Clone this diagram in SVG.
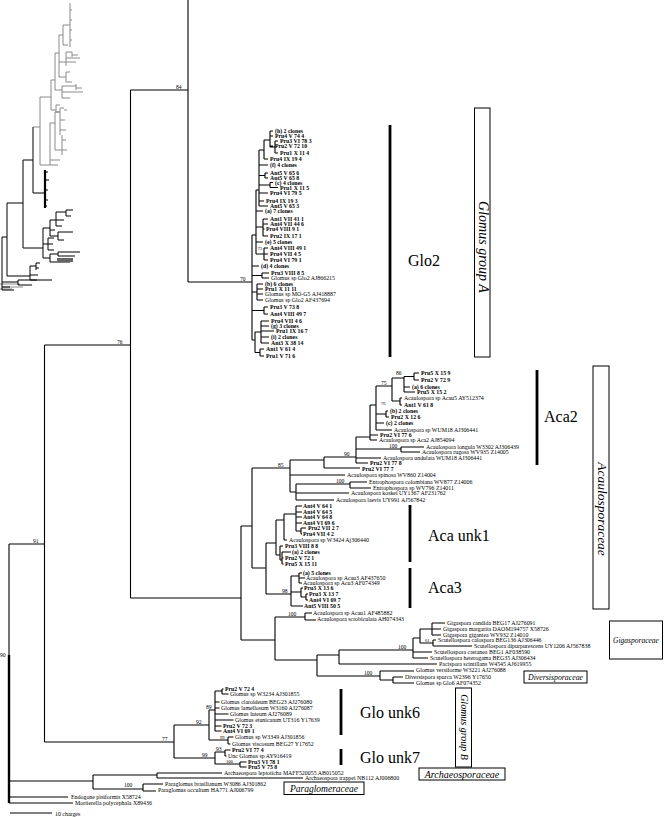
<svg xmlns="http://www.w3.org/2000/svg" width="664" height="817" viewBox="0 0 664 817">
<style>
.l{stroke:#000;stroke-width:1.1;fill:none}
.g{stroke:#8a8a8a;stroke-width:1;fill:none}
.k{stroke:#000;stroke-width:1;fill:none}
.bar{stroke:#000;stroke-width:2.8}
.box{fill:#fff;stroke:#000;stroke-width:1}
text{font-family:"Liberation Serif","Times New Roman",serif;fill:#000}
.s{font-size:5.9px}
.b{font-size:5.8px;font-weight:bold}
.n{font-size:5.6px}
.m{font-size:4.6px}
.c{font-size:16px}
.f{font-style:italic}
</style>
<rect width="664" height="817" fill="#fff"/>

<g id="overview">
<path class="g" d="M33,127 H40 M40,97 V165 M40,97 H51 M51,80 V110 M51,80 H55 M55,53 V90 M55,53 H59 M59,35 V77 M59,35 H63 M63,25 V45 M63,25 H70 M70,3 V47 M70,10 H72 M70,20 H72 M70,30 H72 M70,40 H72 M63,45 H68 M59,77 H66 M66,72 V82 M66,72 H70 M66,82 H72 M59,62 H66 M66,52 V66 M66,52 H72 M66,58 H80 M66,62 H76 M72,52 V57 M72,55 H78 M55,90 H62 M62,86 V98 M62,86 H76 M62,92 H83 M62,98 H70 M76,84 V90 M76,88 H82 M51,110 H56 M56,105 V112 M56,105 H60 M56,112 H60 M40,165 H50 M50,123 V165 M50,123 H55 M55,112 V150 M55,112 H60 M60,108 V135 M60,108 H64 M64,110 H67 M60,120 H65 M60,130 H66 M55,150 H62 M62,135 V155 M62,140 H66 M62,150 H67 M50,160 H60 M50,165 H58 M0,284 H20 M3,287 H23 M0,289 H12"/>
<path class="k" d="M2,237 V290 M2,237 H7 M7,203 V276 M7,203 H23 M23,160 V248 M23,160 H33 M33,127 V193 M33,193 H44 M45,172 H48 M45,180 H49 M45,190 H48 M45,200 H48 M45,206 H47 M23,248 H43 M43,228 V258 M43,228 H50 M50,220 V236 M50,220 H56 M56,212 V226 M56,212 H66 M66,210 V216 M66,210 H73 M66,216 H71 M56,220 H64 M56,226 H62 M50,236 H58 M58,232 V240 M58,232 H73 M58,240 H64 M50,230 H55 M43,244 H48 M48,238 V250 M48,238 H54 M48,244 H53 M48,250 H54 M43,258 H50 M50,254 V262 M50,254 H58 M58,252 V256 M58,252 H80 M58,256 H75 M50,262 H70 M7,276 H30 M30,266 V280 M30,266 H36 M36,263 V270 M36,263 H40 M36,268 H39 M30,275 H38 M30,280 H37 M2,282 H18 M18,280 V285 M18,280 H52 M18,285 H32 M2,287 H10 M2,290 H14"/>
<path stroke="#000" stroke-width="2.2" d="M45,170 V208"/>
<rect x="57" y="258" width="16" height="4" fill="#666"/>
</g>

<g id="connectors">
<path class="l" d="M188,0 V282 M130.5,90 H188 M130.5,90 V598 M44.5,345 H130.5 M44.5,345 V742 M9,544 H44.5 M9,544 V803 M188,282 H252"/>
<path stroke="#000" stroke-width="2.4" d="M9,655 V803"/>
<path class="l" d="M252,235 V340 M252,235 H256 M256,190 V254 M256,190 H259 M259,150 V206 M259,150 H264 M264,140 V159 M264,140 H270 M270,131 V147 M270,131 H273 M270,136 H273 M270,146 H273 M270,147 H275 M275,141 V153 M275,141 H278 M275,153 H278 M264,159 H268 M259,165 H268 M259,175.5 H265 M265,173 V178 M265,173 H268 M265,178 H268 M259,185 H270 M270,182.5 V187.5 M270,182.5 H273 M270,187.5 H278 M259,193 H268 M259,201 H264 M259,206 H268 M256,211 H263 M256,227 H263 M263,219 V236 M263,219 H268 M263,224 H268 M263,229 H264.5 M263,236 H268 M256,242 H263 M256,254 H264 M264,248 V260 M264,248 H268 M264,254 H268 M264,260 H268 M252,266 H259 M252,275.5 H262 M262,273 V278 M262,273 H269 M262,278 H269 M252,292 H257 M257,284 V300 M257,284 H263 M257,289 H263 M257,294 H263 M257,300 H263 M252,310.5 H264 M264,307 V314 M264,307 H268 M264,314 H268 M252,340 H255 M255,332 V352.5 M255,332 H261 M261,321 V343 M261,321 H269 M261,326 H269 M261,331 H274 M261,337 H269 M261,343 H269 M255,352.5 H260 M260,349 V356 M260,349 H264 M260,356 H264"/>
<path class="l" d="M130.5,598 H241 M241,526 V640 M241,526 H252 M252,468 V568 M252,468 H290 M290,460 V492 M290,460 H324 M290,475 H345 M290,492 H296 M296,484 V500 M296,484 H350 M350,482 V488 M350,482 H367 M350,488 H371 M296,493 H349 M296,500 H334 M324,457 V468 M324,457 H356 M324,468 H360 M356,437 V463 M356,437 H370 M356,449 H401 M401,447 V452 M401,447 H424 M401,452 H420 M356,458 H381 M356,463 H368 M370,405 V440 M370,435 H378 M370,440 H377 M370,405 H376 M376,386 V430 M376,414 H386 M386,411 V417 M386,411 H388 M386,417 H389 M376,423 H384 M376,430 H392 M376,386 H392 M392,378 V401 M392,401 H400 M400,398 V405 M400,398 H402 M400,405 H402 M392,378 H404 M404,376.5 V392 M404,376.5 H414 M414,373 V380 M414,373 H419 M414,380 H419 M404,387 H410 M404,392 H415"/>
<path class="l" d="M252,568 H266 M266,543 V594 M266,543 H276 M276,520 V555 M276,520 H284 M284,514 V540 M284,514 H296 M296,506 V531 M296,506 H302 M296,512 H302 M296,517 H302 M296,523 H302 M296,531 H301 M301,528 V534 M301,528 H306 M301,534 H302 M284,540 H287 M276,555 H280 M280,546 V560 M280,546 H283 M280,560 H282 M282,552 V564 M282,552 H291 M282,558 H283.5 M282,564 H283.5 M266,594 H291 M291,576 V606 M291,576 H299 M299,573 V583 M299,573 H302 M299,578 H305 M299,583 H302 M291,592 H301 M301,588 V597 M301,588 H303 M301,597 H306 M306,594 V600 M306,594 H308 M306,600 H308 M291,606 H303"/>
<path class="l" d="M241,640 H275 M275,617 V660 M275,617 H305 M305,613 V620 M305,613 H312 M305,620 H316 M275,660 H317 M317,655 V676 M317,655 H339 M339,650 V664 M339,650 H413 M339,664 H437 M413,638 V658 M413,638 H420 M413,652 H432 M413,658 H428 M420,629 V643 M420,629 H432 M432,623 V635 M432,623 H445 M432,629 H441 M432,635 H441 M420,643 H433 M433,640 V646 M433,640 H436 M433,646 H472 M317,676 H380 M380,671 V680 M380,671 H414 M380,680 H393 M393,677 V683 M393,677 H403 M393,683 H414"/>
<path class="l" d="M44.5,742 H174 M174,725 V758 M174,725 H209 M209,710 V740 M209,710 H215 M215,691 V731 M215,691 H222 M222,689 V694 M222,689 H223.5 M222,694 H228.5 M215,702 H219.5 M215,708 H219.5 M215,714 H228.5 M215,720 H233.5 M215,726 H221.5 M215,731 H221.5 M209,740 H228 M228,737 V744 M228,737 H233.5 M228,744 H230.5 M174,758 H215 M215,752 V764 M215,752 H225 M225,750 V756 M225,750 H230.5 M225,756 H226.5 M215,764 H240 M240,762 V767 M240,762 H246.5 M240,767 H246.5"/>
<path class="l" d="M9,781 H93 M93,775 V789 M93,775 H157 M157,773 V778 M157,773 H222 M157,778 H303 M93,789 H143 M143,784 V791 M143,784 H163 M143,791 H156 M9,797 H68 M9,803 H73 M10,813 H52"/>
</g>

<g id="support-values">
<text class="n" x="176" y="88.5">84</text>
<text class="n" x="117" y="343.5">76</text>
<text class="n" x="33" y="542.5">91</text>
<text class="n" x="0" y="657">90</text>
<text class="n" x="240" y="280.5">70</text>
<text class="m" x="257.5" y="250">73</text>
<text class="n" x="396" y="375">86</text>
<text class="n" x="381" y="384.5">75</text>
<text class="m" x="381" y="405">76</text>
<text class="n" x="389" y="447.5">100</text>
<text class="n" x="344" y="455.5">90</text>
<text class="n" x="278" y="466.5">85</text>
<text class="n" x="336" y="482.5">100</text>
<text class="n" x="282" y="592.5">98</text>
<text class="n" x="288" y="615.5">100</text>
<text class="n" x="398" y="648.5">100</text>
<text class="m" x="425" y="642">61</text>
<text class="n" x="364" y="674.5">100</text>
<text class="n" x="162" y="740.5">77</text>
<text class="n" x="196" y="723.5">92</text>
<text class="n" x="206" y="708.5">89</text>
<text class="m" x="220" y="738.5">99</text>
<text class="n" x="202" y="756.5">99</text>
<text class="n" x="216" y="750.5">93</text>
<text class="m" x="226" y="762.5">100</text>
<text class="n" x="124" y="786.5">100</text>
</g>

<g id="glo2-leaves">
<text class="b" x="275" y="133">(h) 2 clones</text>
<text class="b" x="275" y="138">Pru4 V 74 4</text>
<text class="b" x="280" y="143">Pru3 VI 78 3</text>
<text class="b" x="275" y="148">Pru2 V 72 10</text>
<text class="b" x="280" y="155">Pru1 X 11 4</text>
<text class="b" x="270" y="161">Pru4 IX 19 4</text>
<text class="b" x="270" y="167">(f) 4 clones</text>
<text class="b" x="270" y="175">Ant5 V 65 6</text>
<text class="b" x="270" y="180">Ant5 V 65 8</text>
<text class="b" x="275" y="184.5">(c) 4 clones</text>
<text class="b" x="280" y="189.8">Pru1 X 11 5</text>
<text class="b" x="270" y="195.3">Pru4 VI 79 5</text>
<text class="b" x="266" y="203">Pru4 IX 19 3</text>
<text class="b" x="270" y="208">Ant5 V 65 3</text>
<text class="b" x="265" y="213">(a) 7 clones</text>
<text class="b" x="270" y="221">Ant1 VII 41 1</text>
<text class="b" x="270" y="226">Ant4 VII 44 6</text>
<text class="b" x="266" y="231">Pru4 VIII 9 1</text>
<text class="b" x="270" y="238">Pru2 IX 17 1</text>
<text class="b" x="265" y="244">(e) 5 clones</text>
<text class="b" x="270" y="250">Ant4 VIII 49 1</text>
<text class="b" x="270" y="256">Pru4 VII 4 5</text>
<text class="b" x="270" y="262">Pru4 VI 79 1</text>
<text class="b" x="261" y="268">(d) 4 clones</text>
<text class="b" x="271" y="275">Pru3 VIII 8 5</text>
<text class="s" x="271" y="280">Glomus sp Glo2 AJ866215</text>
<text class="b" x="265" y="286">(b) 6 clones</text>
<text class="b" x="265" y="291">Pru1 X 11 11</text>
<text class="s" x="265" y="296">Glomus sp MO-G5 AJ418887</text>
<text class="s" x="265" y="302">Glomus sp Glo2 AF437694</text>
<text class="b" x="270" y="309">Pru3 V 73 8</text>
<text class="b" x="270" y="316">Ant4 VIII 49 7</text>
<text class="b" x="271" y="323">Pru4 VII 4 6</text>
<text class="b" x="271" y="328">(g) 3 clones</text>
<text class="b" x="276" y="333">Pru1 IX 16 7</text>
<text class="b" x="271" y="339">(i) 2 clones</text>
<text class="b" x="271" y="345">Ant3 X 38 14</text>
<text class="b" x="266" y="351">Ant1 V 61 4</text>
<text class="b" x="266" y="358">Pru1 V 71 6</text>
</g>

<g id="aca2-leaves">
<text class="b" x="421" y="375">Pru5 X 15 9</text>
<text class="b" x="421" y="382">Pru2 V 72 9</text>
<text class="b" x="412" y="389">(a) 6 clones</text>
<text class="b" x="417" y="394">Pru5 X 15 2</text>
<text class="s" x="404" y="400">Acaulospora sp Acau5 AY512374</text>
<text class="b" x="404" y="407">Ant1 V 61 8</text>
<text class="b" x="390" y="413">(b) 2 clones</text>
<text class="b" x="391" y="419">Pru2 X 12 6</text>
<text class="b" x="386" y="425">(c) 2 clones</text>
<text class="s" x="394" y="432">Acaulospora sp WUM18 AJ306441</text>
<text class="b" x="380" y="437">Pru2 VI 77 6</text>
<text class="s" x="379" y="442">Acaulospora sp Aca2 AJ854094</text>
<text class="s" x="426" y="449">Acaulospora longula W3302 AJ306439</text>
<text class="s" x="422" y="454">Acaulospora rugosa WV935 Z14005</text>
<text class="s" x="383" y="460">Acaulospora undulata WUM18 AJ306441</text>
<text class="b" x="370" y="465">Pru2 VI 77 8</text>
<text class="b" x="362" y="471">Pru2 VI 77 7</text>
<text class="s" x="347" y="477">Acaulospora spinosa WV860 Z14004</text>
<text class="s" x="369" y="484">Entrophospora colombiana WV877 Z14006</text>
<text class="s" x="373" y="490">Entrophospora sp WV796 Z14011</text>
<text class="s" x="351" y="495">Acaulospora koskei UY1367 AF231762</text>
<text class="s" x="336" y="502">Acaulospora laevis UY991 AJ567842</text>
</g>

<g id="aca-unk1-aca3-leaves">
<text class="b" x="303" y="508">Ant4 V 64 1</text>
<text class="b" x="303" y="514">Ant4 V 64 5</text>
<text class="b" x="303" y="519">Ant4 V 64 8</text>
<text class="b" x="303" y="525">Ant4 VI 69 6</text>
<text class="b" x="308" y="530">Pru2 VII 2 7</text>
<text class="b" x="303" y="536">Pru4 VII 4 2</text>
<text class="s" x="289" y="542">Acaulospora sp W3424 Aj306440</text>
<text class="b" x="285" y="548">Pru3 VIII 8 8</text>
<text class="b" x="292" y="554">(a) 2 clones</text>
<text class="b" x="285" y="560">Pru2 V 72 1</text>
<text class="b" x="285" y="566">Pru5 X 15 11</text>
<text class="b" x="303" y="575">(a) 5 clones</text>
<text class="s" x="306" y="580">Acaulospora sp Acau3 AF437650</text>
<text class="s" x="303" y="585">Acaulospora sp Acu3 AF074349</text>
<text class="b" x="304" y="590">Pru3 X 13 6</text>
<text class="b" x="309" y="596">Pru3 X 13 7</text>
<text class="b" x="309" y="602">Ant4 VI 69 7</text>
<text class="b" x="304" y="608">Ant5 VIII 50 5</text>
<text class="s" x="313" y="615">Acaulospora sp Acau1 AF485882</text>
<text class="s" x="317" y="621">Acaulospora scrobiculata AH074343</text>
</g>

<g id="gigaspora-diversispora-leaves">
<text class="s" x="447" y="625">Gigaspora candida BEG17 AJ276091</text>
<text class="s" x="443" y="631">Gigaspora margarita DAOM194757 X58726</text>
<text class="s" x="443" y="637">Gigaspora gigantea WV932 Z14010</text>
<text class="s" x="438" y="642">Scutellospora calospora BEG136 AJ306446</text>
<text class="s" x="474" y="648">Scutellospora dipurpurescens UY1206 AJ567838</text>
<text class="s" x="434" y="654">Scutellospora castanea BEG1 AF038590</text>
<text class="s" x="430" y="660">Scutellospora heterogama BEG35 AJ306434</text>
<text class="s" x="439" y="666">Pacispora scintillans W4545 AJ619955</text>
<text class="s" x="416" y="672">Glomus versiforme W3221 AJ276088</text>
<text class="s" x="405" y="679">Diversispora spurca W2396 Y17650</text>
<text class="s" x="416" y="685">Glomus sp Glo6 AF074352</text>
</g>

<g id="glomus-b-leaves">
<text class="b" x="225" y="691">Pru2 V 72 4</text>
<text class="s" x="230" y="696">Glomus sp W3234 AJ301855</text>
<text class="s" x="221" y="704">Glomus claroideum BEG23 AJ276080</text>
<text class="s" x="221" y="710">Glomus lamellosum W3160 AJ276087</text>
<text class="s" x="230" y="716">Glomus luteum AJ276089</text>
<text class="s" x="235" y="722">Glomus etunicatum UT316 Y17639</text>
<text class="b" x="223" y="728">Pru2 V 72 3</text>
<text class="b" x="223" y="733">Ant4 VI 69 1</text>
<text class="s" x="235" y="739">Glomus sp W3349 AJ301856</text>
<text class="s" x="232" y="746">Glomus viscosum BEG27 Y17652</text>
<text class="b" x="232" y="752">Pru2 VI 77 4</text>
<text class="s" x="228" y="758">Unc Glomus sp AY916419</text>
<text class="b" x="248" y="764">Pru3 VI 78 1</text>
<text class="b" x="248" y="769">Pru5 V 75 8</text>
</g>

<g id="basal-leaves">
<text class="s" x="224" y="775">Archaeospora leptoticha MAFF520055 AB015052</text>
<text class="s" x="305" y="780">Archaeospora trappei NB112 AJ006800</text>
<text class="s" x="165" y="786">Paraglomus brasilianum W3086 AJ301862</text>
<text class="s" x="158" y="792">Paraglomus occultum HA771 AJ006799</text>
<text class="s" x="71" y="799">Endogone pisiformis X58724</text>
<text class="s" x="75" y="805">Mortierella polycephala X89436</text>
<text class="s" x="55" y="816">10 charges</text>
</g>

<g id="clade-glo2"><line class="bar" x1="390" y1="125" x2="390" y2="357"/><text class="c" x="408" y="265.5">Glo2</text></g>
<g id="clade-aca2"><line class="bar" x1="537" y1="370" x2="537" y2="465"/><text class="c" x="544" y="421.5">Aca2</text></g>
<g id="clade-aca-unk1"><line class="bar" x1="410" y1="505" x2="410" y2="562"/><text class="c" x="428" y="540.5">Aca unk1</text></g>
<g id="clade-aca3"><line class="bar" x1="410" y1="568" x2="410" y2="608"/><text class="c" x="428" y="593">Aca3</text></g>
<g id="clade-glo-unk6"><line class="bar" x1="341" y1="689" x2="341" y2="735"/><text class="c" x="360" y="717.5">Glo unk6</text></g>
<g id="clade-glo-unk7"><line class="bar" x1="341" y1="749" x2="341" y2="765"/><text class="c" x="360" y="762.5">Glo unk7</text></g>

<g id="box-glomus-group-a"><rect class="box" x="474.5" y="108" width="15.5" height="249"/><text class="f" font-size="14" text-anchor="middle" transform="translate(478.5,247) rotate(90)">Glomus group A</text></g>
<g id="box-acaulosporaceae"><rect class="box" x="593" y="366" width="16" height="243"/><text class="f" font-size="13.5" text-anchor="middle" transform="translate(597.5,509) rotate(90)">Acaulosporaceae</text></g>
<g id="box-gigasporaceae"><rect class="box" x="609.5" y="621" width="53" height="38"/><text class="f" font-size="7.5" text-anchor="middle" x="636" y="642.5">Gigasporaceae</text></g>
<g id="box-diversisporaceae"><rect class="box" x="524" y="671" width="63" height="12"/><text class="f" font-size="7.8" text-anchor="middle" x="555.5" y="679.8">Diversisporaceae</text></g>
<g id="box-glomus-group-b"><rect class="box" x="455.5" y="688" width="16" height="79"/><text class="f" font-size="10" text-anchor="middle" transform="translate(460.5,727) rotate(90)">Glomus group B</text></g>
<g id="box-archaeosporaceae"><rect class="box" x="419" y="768" width="86" height="12"/><text class="f" font-size="10" text-anchor="middle" x="462" y="777.5">Archaeosporaceae</text></g>
<g id="box-paraglomeraceae"><rect class="box" x="284" y="782" width="80" height="12.5"/><text class="f" font-size="9.5" text-anchor="middle" x="324" y="791.8">Paraglomeraceae</text></g>
</svg>
